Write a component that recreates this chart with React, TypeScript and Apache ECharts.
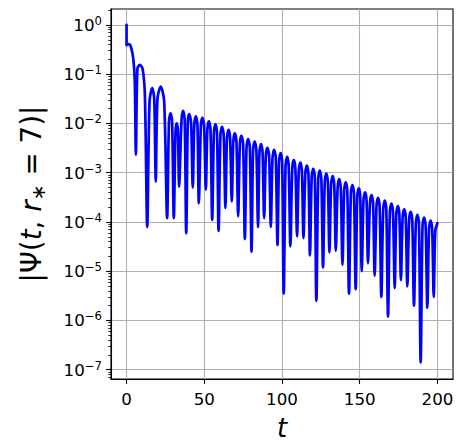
import React, { useEffect, useRef } from "react";
import * as echarts from "echarts";

// Early part of the signal (t from 0 to the dip near 26)
const earlyT = [0, 0, 1.5, 2.8, 4.3, 5.3, 6.0, 7.0, 8.55, 10.3, 11.8, 13.3, 14.8, 16.5, 17.8, 18.8, 19.9, 22.0, 24.2, 26.1];
const earlyPsi = [1.0, 0.39, 0.41, 0.36, 0.21, 0.071, 2.3e-3, 0.13, 0.155, 0.13, 0.038, 7.9e-5, 0.028, 0.052, 0.032, 6.6e-4, 0.032, 0.056, 0.028, 1.2e-4];

// Hump tops of the ringdown
const peakT = [28.3, 32.3, 36.4, 40.3, 44.6, 48.8, 53.0, 57.2, 61.4, 65.6, 69.7, 73.9, 78.2, 82.4, 86.5, 90.6, 94.9, 99.1, 103.3, 107.6, 111.8, 116.0, 120.1, 124.3, 128.5, 132.6, 136.8, 141.0, 145.3, 149.4, 153.4, 157.6, 161.8, 166.1, 170.4, 174.5, 178.6, 182.8, 187.1, 191.4, 195.6];
const peakPsi = [1.6e-2, 1.0e-2, 1.8e-2, 1.55e-2, 1.4e-2, 1.3e-2, 1.1e-2, 9.6e-3, 8.5e-3, 7.4e-3, 6.3e-3, 5.6e-3, 4.8e-3, 4.3e-3, 3.8e-3, 3.2e-3, 2.9e-3, 2.5e-3, 2.1e-3, 1.8e-3, 1.6e-3, 1.4e-3, 1.2e-3, 1.1e-3, 9.6e-4, 8.5e-4, 7.4e-4, 6.4e-4, 5.6e-4, 4.8e-4, 4.0e-4, 3.5e-4, 3.1e-4, 2.7e-4, 2.35e-4, 2.1e-4, 1.8e-4, 1.6e-4, 1.4e-4, 1.22e-4, 1.07e-4];

// Shoulders on either side of each hump
const leftShoulderT = [27.3, 31.5, 35.4, 39.4, 43.6, 47.8, 52.0, 56.2, 60.4, 64.6, 68.7, 72.9, 77.2, 81.4, 85.5, 89.6, 93.9, 98.1, 102.3, 106.6, 110.8, 115.0, 119.1, 123.3, 127.5, 131.6, 135.8, 140.0, 144.3, 148.4, 152.4, 156.6, 160.8, 165.1, 169.4, 173.5, 177.6, 181.8, 186.1, 190.4, 194.6];
const rightShoulderT = [29.3, 33.1, 37.4, 41.5, 45.6, 49.9, 54.0, 58.2, 62.5, 66.6, 70.7, 75.0, 79.3, 83.5, 87.5, 91.7, 96.0, 100.1, 104.3, 108.6, 112.8, 117.0, 121.1, 125.3, 129.5, 133.6, 137.8, 142.0, 146.3, 150.3, 154.4, 158.6, 162.8, 167.1, 171.4, 175.5, 179.6, 183.8, 188.1, 192.4, 196.6];
const shoulderPsi = [1.1e-2, 6.8e-3, 1.2e-2, 1.05e-2, 9.5e-3, 8.8e-3, 7.5e-3, 6.5e-3, 5.8e-3, 5.0e-3, 4.3e-3, 3.8e-3, 3.3e-3, 2.9e-3, 2.6e-3, 2.2e-3, 2.0e-3, 1.7e-3, 1.4e-3, 1.2e-3, 1.1e-3, 9.5e-4, 8.2e-4, 7.5e-4, 6.5e-4, 5.8e-4, 5.0e-4, 4.4e-4, 3.8e-4, 3.3e-4, 2.7e-4, 2.4e-4, 2.1e-4, 1.8e-4, 1.6e-4, 1.4e-4, 1.2e-4, 1.1e-4, 9.5e-5, 8.3e-5, 7.3e-5];

// Deep minima between humps
const dipT = [30.4, 33.8, 38.4, 42.6, 46.5, 51.0, 55.1, 59.2, 63.6, 67.7, 71.8, 76.1, 80.4, 84.6, 88.5, 92.8, 97.1, 101.1, 105.4, 109.7, 113.8, 118.0, 122.1, 126.4, 130.5, 134.6, 138.9, 143.1, 147.4, 151.3, 155.3, 159.6, 163.9, 168.2, 172.5, 176.5, 180.6, 184.9, 189.2, 193.5, 197.6];
const dipPsi = [1.2e-4, 5.2e-4, 5.9e-5, 5.0e-4, 2.4e-4, 4.5e-4, 1.1e-4, 6.6e-5, 1.9e-4, 2.6e-4, 1.3e-4, 4.5e-5, 2.5e-5, 7.8e-5, 1.2e-4, 7.9e-5, 3.4e-5, 3.5e-6, 3.2e-5, 5.1e-5, 4.7e-5, 2.1e-5, 2.5e-6, 1.2e-5, 2.4e-5, 2.6e-5, 1.35e-5, 3.5e-6, 4.3e-6, 1.0e-5, 1.45e-5, 8.1e-6, 3.0e-6, 1.2e-6, 4.5e-6, 6.6e-6, 4.9e-6, 2.0e-6, 1.4e-7, 1.8e-6, 3.0e-6];

// Final rise at the end of the run
const tailT = [198.6, 200];
const tailPsi = [6.5e-5, 9.5e-5];

// Axis ticks
const xTicks = [0, 50, 100, 150, 200];
const yTickExponents = [-7, -6, -5, -4, -3, -2, -1, 0];
const yMin = 6.47e-8;
const yMax = 2.11;

const FONT = "DejaVu Sans";

function buildPoints(): [number, number][] {
  const pts: [number, number][] = [];
  earlyT.forEach((t, i) => pts.push([t, earlyPsi[i]]));
  peakT.forEach((t, i) => pts.push([t, peakPsi[i]]));
  leftShoulderT.forEach((t, i) => pts.push([t, shoulderPsi[i]]));
  rightShoulderT.forEach((t, i) => pts.push([t, shoulderPsi[i]]));
  dipT.forEach((t, i) => pts.push([t, dipPsi[i]]));
  tailT.forEach((t, i) => pts.push([t, tailPsi[i]]));
  return pts.sort((a, b) => a[0] - b[0]);
}

export default function App() {
  const ref = useRef<HTMLDivElement>(null);
  useEffect(() => {
    if (!ref.current) return;
    const chart = echarts.init(ref.current, undefined, { renderer: "svg" });
    const yMajor = yTickExponents.map((e) => Math.pow(10, e));
    const yMinor: number[] = [];
    for (let e = -8; e <= 0; e++) {
      for (let m = 2; m <= 9; m++) {
        const v = m * Math.pow(10, e);
        if (v > yMin && v < yMax) yMinor.push(v);
      }
    }
    const fmtExp = (v: number) => {
      const e = Math.round(Math.log10(v));
      const s = e < 0 ? "\u2212" + -e : String(e);
      return `{b|10}{s|${s}}`;
    };
    chart.setOption({
      animation: false,
      backgroundColor: "#ffffff",
      grid: {
        left: 111,
        top: 9,
        right: 6,
        bottom: 65,
        outerBoundsMode: "none",
        containLabel: false,
        show: true,
        borderColor: "#000",
        borderWidth: 1.1,
        backgroundColor: "transparent",
      },
      xAxis: {
        type: "value",
        min: -10,
        max: 210,
        name: "t",
        nameLocation: "middle",
        nameGap: 38,
        nameTextStyle: {
          fontFamily: FONT,
          fontSize: 26,
          lineHeight: 22,
          fontStyle: "italic",
          color: "#000",
        },
        axisLine: { show: true, onZero: false, lineStyle: { color: "#000", width: 1.1 } },
        axisTick: {
          show: true,
          length: 4.9,
          customValues: xTicks,
          lineStyle: { color: "#000", width: 1.1 },
        },
        axisLabel: {
          customValues: xTicks,
          margin: 11,
          fontFamily: FONT,
          fontSize: 16.7,
          color: "#000",
        },
        splitLine: { show: true, lineStyle: { color: "#b0b0b0", width: 1.1 } },
      },
      yAxis: [
        {
          type: "log",
          logBase: 10,
          min: yMin,
          max: yMax,
          position: "left",
          name: "{n||\u03a8(}{i|t}{n|, }{i|r}{sub|\u2217}{n| = 7)|}",
          nameLocation: "middle",
          nameRotate: 90,
          nameGap: 64,
          nameTextStyle: {
            fontFamily: FONT,
            fontSize: 27.8,
            color: "#000",
            rich: {
              n: { fontFamily: FONT, fontSize: 27.8, color: "#000", lineHeight: 32 },
              i: { fontFamily: FONT, fontSize: 27.8, fontStyle: "italic", color: "#000", lineHeight: 32 },
              sub: { fontFamily: FONT, fontSize: 19, color: "#000", lineHeight: 22, verticalAlign: "bottom" },
            },
          },
          axisLine: { show: true, onZero: false, lineStyle: { color: "#000", width: 1.1 } },
          axisTick: {
            show: true,
            length: 4.9,
            customValues: yMajor,
            lineStyle: { color: "#000", width: 1.1 },
          },
          axisLabel: {
            customValues: yMajor,
            margin: 9,
            formatter: fmtExp,
            rich: {
              b: { fontFamily: FONT, fontSize: 16.7, color: "#000", lineHeight: 20 },
              s: { fontFamily: FONT, fontSize: 11.7, color: "#000", lineHeight: 12, verticalAlign: "top" },
            },
          },
          splitLine: { show: true, lineStyle: { color: "#b0b0b0", width: 1.1 } },
        },
        {
          type: "log",
          logBase: 10,
          min: yMin,
          max: yMax,
          position: "left",
          axisLine: { show: false, onZero: false },
          axisLabel: { show: false },
          splitLine: { show: false },
          axisTick: {
            show: true,
            length: 2.8,
            customValues: yMinor,
            lineStyle: { color: "#000", width: 0.8 },
          },
        },
      ],
      series: [
        {
          type: "line",
          data: buildPoints(),
          xAxisIndex: 0,
          yAxisIndex: 0,
          showSymbol: false,
          symbol: "none",
          smooth: 0.3,
          clip: true,
          lineStyle: { color: "#0000ff", width: 2.7, join: "round", cap: "round" },
        },
      ],
    });
    return () => chart.dispose();
  }, []);
  return (
    <div
      ref={ref}
      style={{ position: "fixed", left: 0, top: 0, width: 459, height: 444 }}
    />
  );
}
